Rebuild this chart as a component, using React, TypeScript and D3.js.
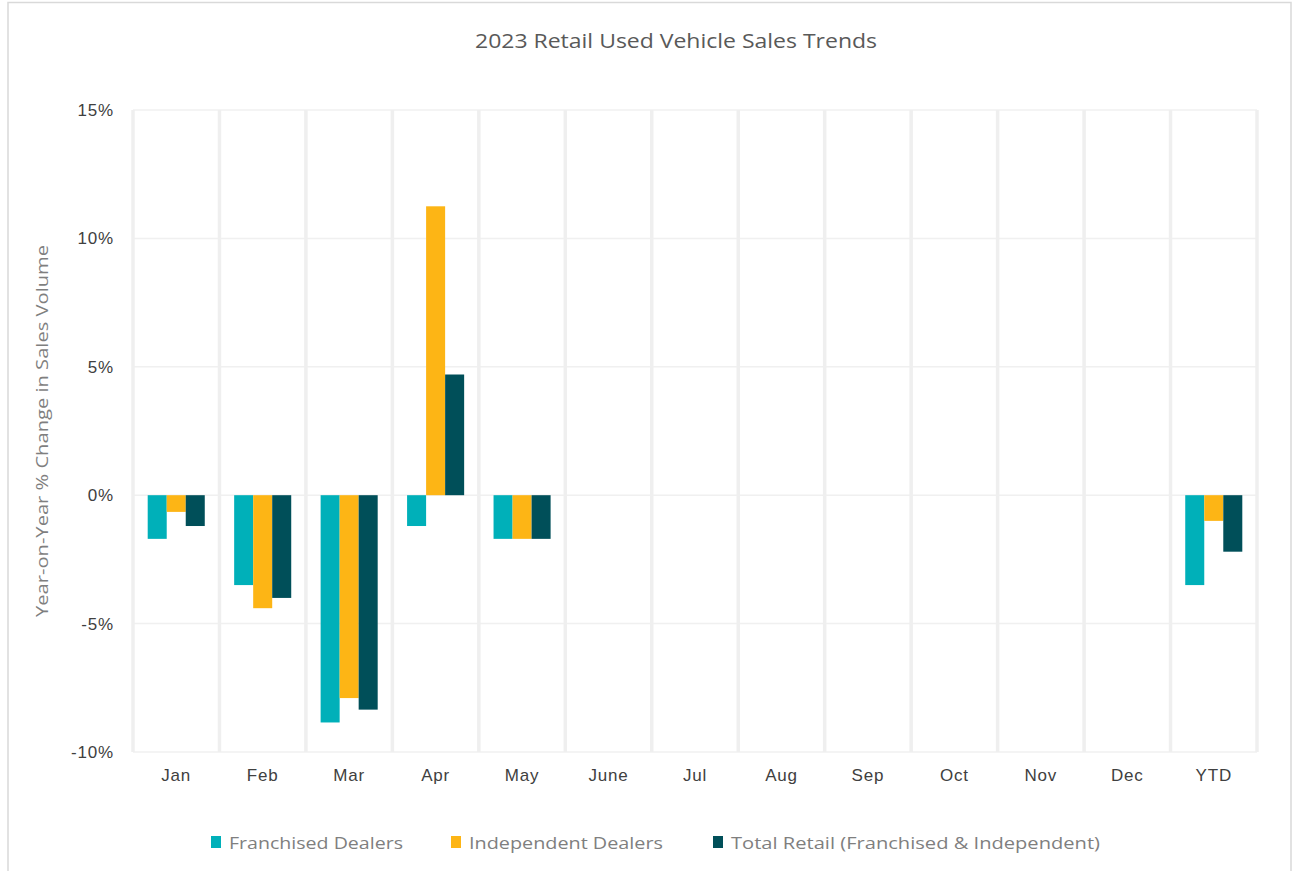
import React from "react";
import * as d3 from "d3";

const categories = ["Jan", "Feb", "Mar", "Apr", "May", "June", "Jul", "Aug", "Sep", "Oct", "Nov", "Dec", "YTD"];
const franchised: (number | null)[] = [-1.7, -3.5, -8.85, -1.2, -1.7, null, null, null, null, null, null, null, -3.5];
const independent: (number | null)[] = [-0.65, -4.4, -7.9, 11.25, -1.7, null, null, null, null, null, null, null, -1.0];
const totalRetail: (number | null)[] = [-1.2, -4.0, -8.35, 4.7, -1.7, null, null, null, null, null, null, null, -2.2];
const seriesNames = ["Franchised Dealers", "Independent Dealers", "Total Retail (Franchised & Independent)"];
const seriesColors = ["#00B0B9", "#FDB515", "#004F59"];
const yTicks = [15, 10, 5, 0, -5, -10];

const W = 1293;
const H = 871;
const plot = { left: 133, right: 1257, top: 110, bottom: 752 };

export default function App() {
  const allSeries = [franchised, independent, totalRetail];
  const x = d3.scaleBand<string>().domain(categories).range([plot.left, plot.right]).paddingInner(0).paddingOuter(0);
  const y = d3.scaleLinear().domain([-10, 15]).range([plot.bottom, plot.top]);
  const bw = x.bandwidth();
  const groupW = bw * 0.66;
  const inner = d3.scaleBand<number>().domain([0, 1, 2]).range([0, groupW]).padding(0);
  const labelFont = "'Open Sans', 'Noto Sans', sans-serif";
  const tickFont = "'Liberation Sans', Arial, sans-serif";

  const legendX = [211, 451, 713];
  const legendLen = [174, 194, 369];

  return (
    <svg width={W} height={H} style={{ position: "absolute", left: 0, top: 0, background: "#fff" }}>
      <rect x={8} y={2.5} width={1283} height={880} fill="#fff" stroke="#d9d9d9" strokeWidth={1.5} />
      <text x={676} y={48} textAnchor="middle" fontFamily={labelFont} fontSize={20} fill="#595959" textLength={402} lengthAdjust="spacingAndGlyphs">
        2023 Retail Used Vehicle Sales Trends
      </text>
      {/* horizontal grid */}
      {yTicks.map((t) => (
        <line key={"h" + t} x1={plot.left} x2={plot.right} y1={y(t)} y2={y(t)} stroke="#f0f0f0" strokeWidth={1.5} />
      ))}
      {/* vertical grid */}
      {[...categories.map((c) => x(c) as number), plot.right].map((vx, i) => (
        <line key={"v" + i} x1={vx} x2={vx} y1={plot.top} y2={plot.bottom} stroke="#efefef" strokeWidth={3.5} />
      ))}
      {/* bars */}
      {allSeries.map((s, si) =>
        s.map((v, ci) => {
          if (v === null) return null;
          const bx = (x(categories[ci]) as number) + (bw - groupW) / 2 + (inner(si) as number);
          const y0 = y(0);
          const yv = y(v);
          return (
            <rect
              key={si + "-" + ci}
              x={bx}
              y={Math.min(y0, yv)}
              width={inner.bandwidth()}
              height={Math.abs(yv - y0)}
              fill={seriesColors[si]}
            />
          );
        })
      )}
      {/* y tick labels */}
      {yTicks.map((t) => (
        <text key={"yt" + t} x={114} y={y(t)} dy="0.35em" textAnchor="end" fontFamily={tickFont} fontSize={17} letterSpacing={0.8} fill="#404040">
          {t + "%"}
        </text>
      ))}
      {/* x labels */}
      {categories.map((c) => (
        <text key={"xl" + c} x={(x(c) as number) + bw / 2} y={781} textAnchor="middle" fontFamily={tickFont} fontSize={17} letterSpacing={0.8} fill="#404040">
          {c}
        </text>
      ))}
      {/* y axis title */}
      <text
        transform={`translate(48, 431) rotate(-90)`}
        textAnchor="middle"
        fontFamily={labelFont}
        fontSize={17}
        fill="#7f7f7f"
        textLength={372}
        lengthAdjust="spacingAndGlyphs"
      >
        Year-on-Year % Change in Sales Volume
      </text>
      {/* legend */}
      {seriesNames.map((n, i) => (
        <g key={"lg" + i}>
          <rect x={legendX[i]} y={836} width={10} height={12} fill={seriesColors[i]} />
          <text x={legendX[i] + 18} y={849} fontFamily={labelFont} fontSize={17} fill="#7f7f7f" textLength={legendLen[i]} lengthAdjust="spacingAndGlyphs">
            {n}
          </text>
        </g>
      ))}
    </svg>
  );
}
